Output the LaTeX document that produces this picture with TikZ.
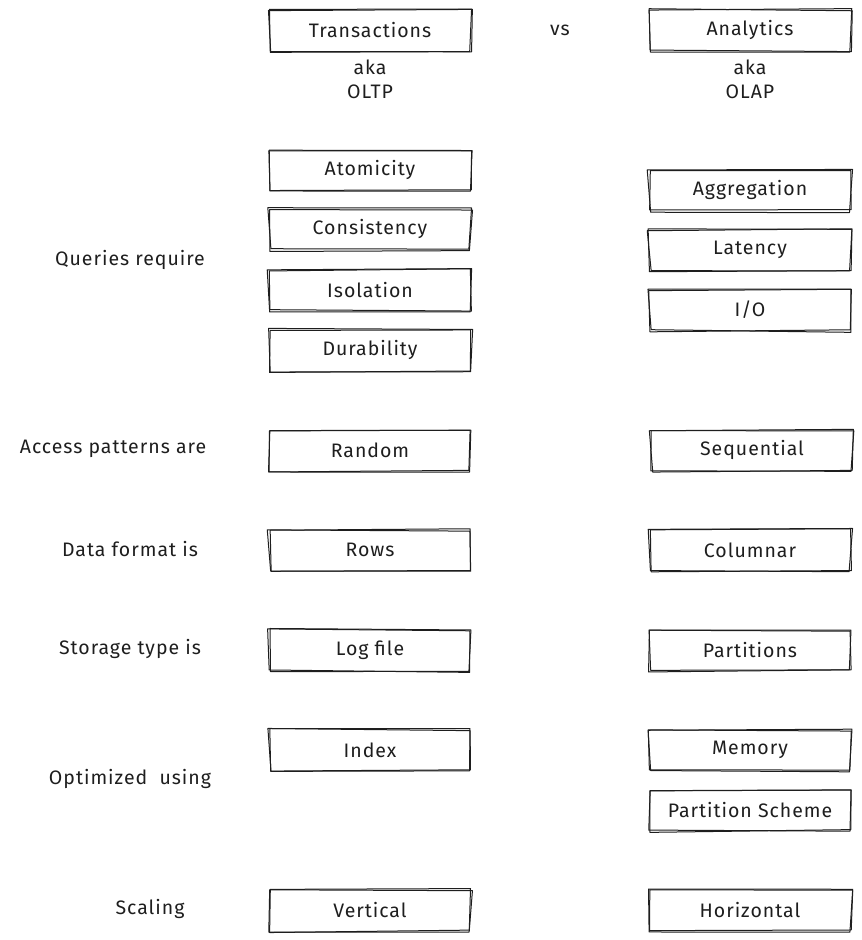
\documentclass[tikz,border=0pt]{standalone}
\usepackage{fontspec}
\setmainfont{Fira Sans}[LetterSpace=5]
\usetikzlibrary{calc}
\definecolor{ink}{HTML}{1E1E1E}

% hand-drawn looking box: an invisible node plus two jittered outlines
\newcommand\sketchbox[4]{%
  \node[cell] (#1) at (#2,#3) {#4};
  \foreach \k in {1,2}{%
    \draw[stroke]
      ($(#1.north west)+({-1+1.6*rand},{1.4*rand})$) --
      ($(#1.north east)+({1+1.6*rand},{1.4*rand})$) --
      ($(#1.south east)+({1.4*rand},{1+1.6*rand})$) --
      ($(#1.south west)+({1.4*rand},{1+1.6*rand})$) -- cycle;
  }%
}

\begin{document}
\begin{tikzpicture}[x=1pt,y=-1pt,
  font=\fontsize{19.5}{22}\selectfont,
  every node/.style={text=ink},
  word/.style={inner sep=0pt, anchor=center},
  cell/.style={minimum width=200pt, minimum height=40pt, inner sep=0pt},
  stroke/.style={line width=1pt, draw=ink, line join=round, line cap=round}]
\pgfmathsetseed{11}
\fill[white] (0,0) rectangle (862,940);
\useasboundingbox (0,0) rectangle (862,940);

% column headings
\sketchbox{oltp}{370}{30}{Transactions}
\sketchbox{olap}{750}{30}{Analytics}
\node[word] (vs) at (560,30) {vs};
\node[word] (akaL) at (370,67) {aka};
\node[word] (oltpL) at (370,92) {OLTP};
\node[word] (akaR) at (750,67) {aka};
\node[word] (olapR) at (750,92) {OLAP};

% queries
\node[word] (queries) at (130,260) {Queries require};
\sketchbox{atom}{370}{170}{Atomicity}
\sketchbox{cons}{370}{229}{Consistency}
\sketchbox{isol}{370}{290}{Isolation}
\sketchbox{dura}{370}{350}{Durability}
\sketchbox{aggr}{750}{190}{Aggregation}
\sketchbox{late}{750}{250}{Latency}
\sketchbox{io}{750}{310}{I/O}

% access patterns
\node[word] (access) at (113,449) {Access patterns are};
\sketchbox{random}{370}{450}{Random}
\sketchbox{seq}{752}{450}{Sequential}

% data format
\node[word] (format) at (130,549) {Data format is};
\sketchbox{rows}{370}{550}{Rows}
\sketchbox{cols}{750}{550}{Columnar}

% storage
\node[word] (storage) at (130,649) {Storage type is};
\sketchbox{log}{370}{650}{Log file}
\sketchbox{parts}{750}{650}{Partitions}

% optimization
\node[word] (optim) at (130,779) {Optimized\ \ using};
\sketchbox{index}{370}{750}{Index}
\sketchbox{mem}{750}{750}{Memory}
\sketchbox{pscheme}{750}{810}{Partition Scheme}

% scaling
\node[word] (scaling) at (150,909) {Scaling};
\sketchbox{vert}{370}{910}{Vertical}
\sketchbox{horiz}{750}{910}{Horizontal}
\end{tikzpicture}
\end{document}
